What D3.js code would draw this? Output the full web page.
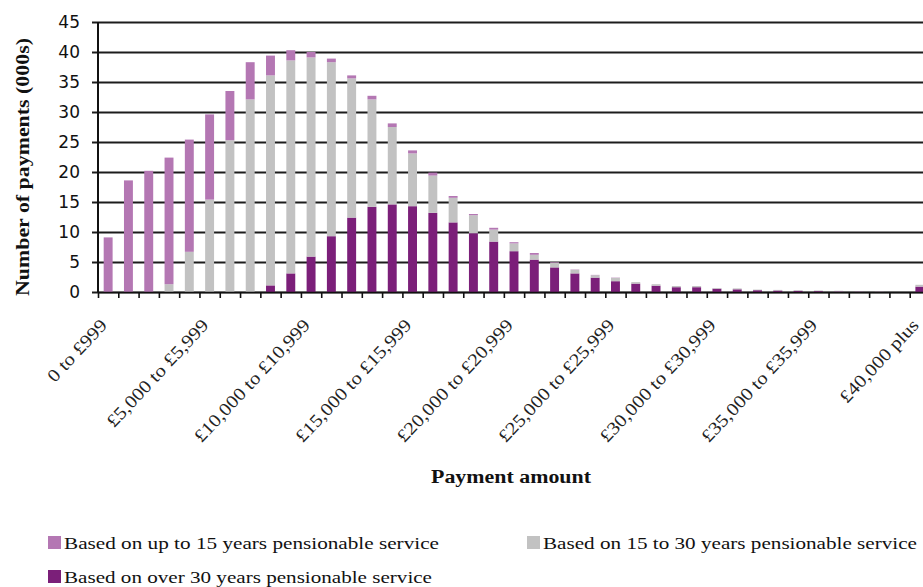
<!DOCTYPE html>
<html>
<head>
<meta charset="utf-8">
<script src="https://cdn.jsdelivr.net/npm/d3@7"></script>
<style>
  body { margin: 0; background: #fff; }
  svg { display: block; }
  .grid line { stroke: #1c1c1c; stroke-width: 1.8; }
  .grid text { font-family: "DejaVu Sans", Verdana, sans-serif; font-size: 17px; fill: #111; }
  .cat text { font-family: "Liberation Serif", "Times New Roman", serif; font-size: 18px; fill: #222; }
  .title { font-family: "Liberation Serif", "Times New Roman", serif; font-weight: bold; fill: #111; }
  .legend text { font-family: "Liberation Serif", "Times New Roman", serif; font-size: 17px; fill: #111; }
</style>
</head>
<body>
<div id="chart"></div>
<script>
// payment bands, £1,000 wide, last one open-ended
const categories = d3.range(0, 40).map(i => i === 0
  ? '0 to £999'
  : `£${d3.format(',')(i * 1000)} to £${d3.format(',')(i * 1000 + 999)}`)
  .concat(['£40,000 plus']);

const shownLabels = ['0 to £999', '£5,000 to £5,999', '£10,000 to £10,999', '£15,000 to £15,999',
  '£20,000 to £20,999', '£25,000 to £25,999', '£30,000 to £30,999', '£35,000 to £35,999', '£40,000 plus'];

const yTicks = [0, 5, 10, 15, 20, 25, 30, 35, 40, 45];

// thousands of payments
const upTo15 = [9.1, 18.6, 20.2, 21.1, 18.7, 14.2, 8.2, 6.2, 3.3, 1.7,
  0.9, 0.6, 0.5, 0.6, 0.6, 0.5, 0.5, 0.3, 0.2, 0.3,
  0.2, 0.3, 0.1, 0.05, 0.05, 0.05, 0, 0, 0, 0,
  0, 0, 0, 0, 0, 0, 0, 0, 0, 0, 0];
const from15to30 = [0, 0, 0, 1.3, 6.7, 15.4, 25.3, 32.1, 35.0, 35.5,
  33.2, 29.0, 23.2, 17.9, 12.9, 8.8, 6.2, 4.1, 3.0, 2.0,
  1.3, 0.8, 0.8, 0.6, 0.4, 0.55, 0.25, 0.25, 0.2, 0.2,
  0.12, 0.15, 0.1, 0.1, 0.1, 0.1, 0.1, 0.05, 0.05, 0, 0.3];
const over30 = [0, 0, 0, 0, 0, 0, 0, 0, 1.1, 3.1,
  5.9, 9.3, 12.4, 14.2, 14.6, 14.3, 13.2, 11.6, 9.8, 8.4,
  6.8, 5.4, 4.1, 3.1, 2.4, 1.8, 1.4, 1.05, 0.8, 0.8,
  0.55, 0.45, 0.3, 0.25, 0.2, 0.15, 0.1, 0.05, 0.03, 0, 0.9];

const seriesNames = ['Based on up to 15 years pensionable service',
  'Based on 15 to 30 years pensionable service',
  'Based on over 30 years pensionable service'];
const colors = { over30: '#7b1f79', from15to30: '#c2c2c2', upTo15: '#b477b3' };

const canvasWidth = 923;
const canvasHeight = 587;
const plot = { left: 98, right: 930, top: 22, bottom: 292 };

const rows = categories.map((c, i) => ({
  cat: c, over30: over30[i], from15to30: from15to30[i], upTo15: upTo15[i]
}));
const stack = d3.stack().keys(['over30', 'from15to30', 'upTo15'])(rows);

const svg = d3.select('#chart').append('svg')
  .attr('width', canvasWidth)
  .attr('height', canvasHeight);

const x = d3.scaleBand().domain(categories).range([plot.left, plot.right]).paddingInner(0.56).paddingOuter(0.28);
const xEdge = d3.scaleLinear().domain([0, categories.length]).range([plot.left, plot.right]);
const y = d3.scaleLinear().domain([0, 45]).range([plot.bottom, plot.top]);

// gridlines + y tick labels
svg.append('g')
  .attr('class', 'grid')
  .attr('transform', `translate(${plot.left - 6},0)`)
  .call(d3.axisLeft(y).tickValues(yTicks).tickSize(-(canvasWidth - plot.left + 6)).tickPadding(12))
  .call(g => g.select('.domain').remove());

// bars
svg.append('g')
  .selectAll('g')
  .data(stack)
  .join('g')
    .attr('fill', d => colors[d.key])
  .selectAll('rect')
  .data(d => d)
  .join('rect')
    .attr('x', d => x(d.data.cat))
    .attr('width', x.bandwidth())
    .attr('y', d => y(d[1]))
    .attr('height', d => y(d[0]) - y(d[1]));

// y axis line
svg.append('line')
  .attr('x1', plot.left).attr('x2', plot.left)
  .attr('y1', y(45)).attr('y2', y(0))
  .attr('stroke', '#111').attr('stroke-width', 2);

// x axis with ticks at band edges
svg.append('g')
  .attr('transform', `translate(0,${plot.bottom})`)
  .call(d3.axisBottom(xEdge).tickValues(d3.range(0, categories.length + 1)).tickFormat('').tickSize(6).tickSizeOuter(0))
  .call(g => g.selectAll('line, path').attr('stroke', '#111').attr('stroke-width', 1.6));

// category labels
svg.append('g')
  .attr('class', 'cat')
  .attr('transform', `translate(0,${plot.bottom})`)
  .call(d3.axisBottom(x).tickValues(shownLabels).tickSize(0))
  .call(g => g.select('.domain').remove())
  .selectAll('text')
    .attr('text-anchor', 'end')
    .attr('y', 0)
    .attr('dy', 0)
    .attr('transform', 'translate(0,34) rotate(-47) scale(1.15,1)');

// axis titles
svg.append('text')
  .attr('class', 'title')
  .attr('transform', `translate(29,167) rotate(-90)`)
  .attr('text-anchor', 'middle')
  .attr('font-size', 19)
  .attr('textLength', 258)
  .attr('lengthAdjust', 'spacingAndGlyphs')
  .text('Number of payments  (000s)');

svg.append('text')
  .attr('class', 'title')
  .attr('x', 511).attr('y', 483)
  .attr('text-anchor', 'middle')
  .attr('font-size', 18)
  .attr('textLength', 160)
  .attr('lengthAdjust', 'spacingAndGlyphs')
  .text('Payment amount');

// legend
const legendItems = [
  { name: seriesNames[0], color: colors.upTo15, x: 48, y: 543, w: 375 },
  { name: seriesNames[1], color: colors.from15to30, x: 527, y: 543, w: 374 },
  { name: seriesNames[2], color: colors.over30, x: 48, y: 577, w: 368 }
];
const legend = svg.append('g').attr('class', 'legend')
  .selectAll('g').data(legendItems).join('g')
  .attr('transform', d => `translate(${d.x},${d.y})`);
legend.append('rect')
  .attr('x', 0).attr('y', -7).attr('width', 13).attr('height', 13)
  .attr('fill', d => d.color);
legend.append('text')
  .attr('x', 16).attr('y', 6)
  .attr('textLength', d => d.w)
  .attr('lengthAdjust', 'spacingAndGlyphs')
  .text(d => d.name);
</script>
</body>
</html>
